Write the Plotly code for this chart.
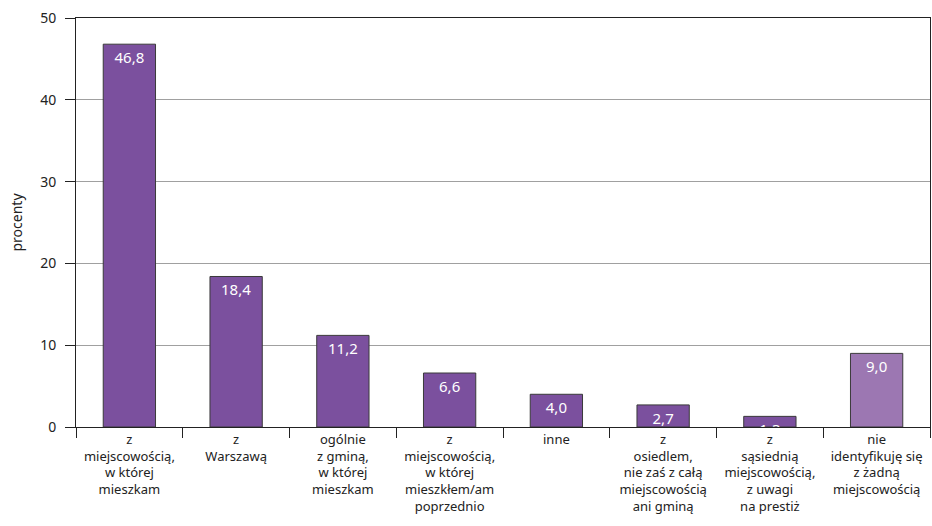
import plotly.graph_objects as go

categories = [
    "z<br>miejscowością,<br>w której<br>mieszkam",
    "z<br>Warszawą",
    "ogólnie<br>z gminą,<br>w której<br>mieszkam",
    "z<br>miejscowością,<br>w której<br>mieszkłem/am<br>poprzednio",
    "inne",
    "z<br>osiedlem,<br>nie zaś z całą<br>miejscowością<br>ani gminą",
    "z<br>sąsiednią<br>miejscowością,<br>z uwagi<br>na prestiż",
    "nie<br>identyfikuję się<br>z żadną<br>miejscowością",
]
values = [46.8, 18.4, 11.2, 6.6, 4.0, 2.7, 1.3, 9.0]
value_labels = ["46,8", "18,4", "11,2", "6,6", "4,0", "2,7", "1,3", "9,0"]
bar_colors = ["#7b509e"] * 7 + ["#9c77b2"]
y_ticks = [0, 10, 20, 30, 40, 50]

FONT = "Noto Sans"

fig = go.Figure()
fig.add_trace(go.Bar(
    x=categories,
    y=values,
    text=value_labels,
    textposition="inside",
    insidetextanchor="end",
    constraintext="none",
    textangle=0,
    textfont=dict(color="white", size=15, family=FONT),
    cliponaxis=True,
    marker=dict(color=bar_colors, line=dict(color="#3a3a3a", width=1)),
    width=0.49,
    hoverinfo="skip",
))

fig.update_layout(
    width=932, height=526,
    margin=dict(l=76, r=2, t=18, b=99),
    plot_bgcolor="white", paper_bgcolor="white",
    font=dict(family=FONT, size=13, color="#222"),
    showlegend=False,
)
fig.update_xaxes(
    type="category",
    tickson="boundaries",
    ticks="outside", ticklen=10, tickcolor="#222", tickwidth=1,
    showline=True, linecolor="#222", linewidth=1, mirror=True,
    showgrid=False,
    automargin=False,
    tickfont=dict(size=13, family=FONT, color="#222"),
)
fig.update_yaxes(
    range=[0, 50],
    tickvals=y_ticks,
    ticks="outside", ticklen=10, tickcolor="#222", tickwidth=1,
    ticklabelstandoff=6,
    showline=True, linecolor="#222", linewidth=1, mirror=True,
    showgrid=True, gridcolor="#a0a0a0", gridwidth=1,
    zeroline=False,
    automargin=False,
    tickfont=dict(size=14, family=FONT, color="#222"),
    title=dict(text="procenty", font=dict(size=14, family=FONT, color="#222"), standoff=14),
)

fig.write_html(
    "out.html",
    config={"displayModeBar": False},
    post_script="document.body.style.margin='0';document.body.style.overflow='hidden';",
)
